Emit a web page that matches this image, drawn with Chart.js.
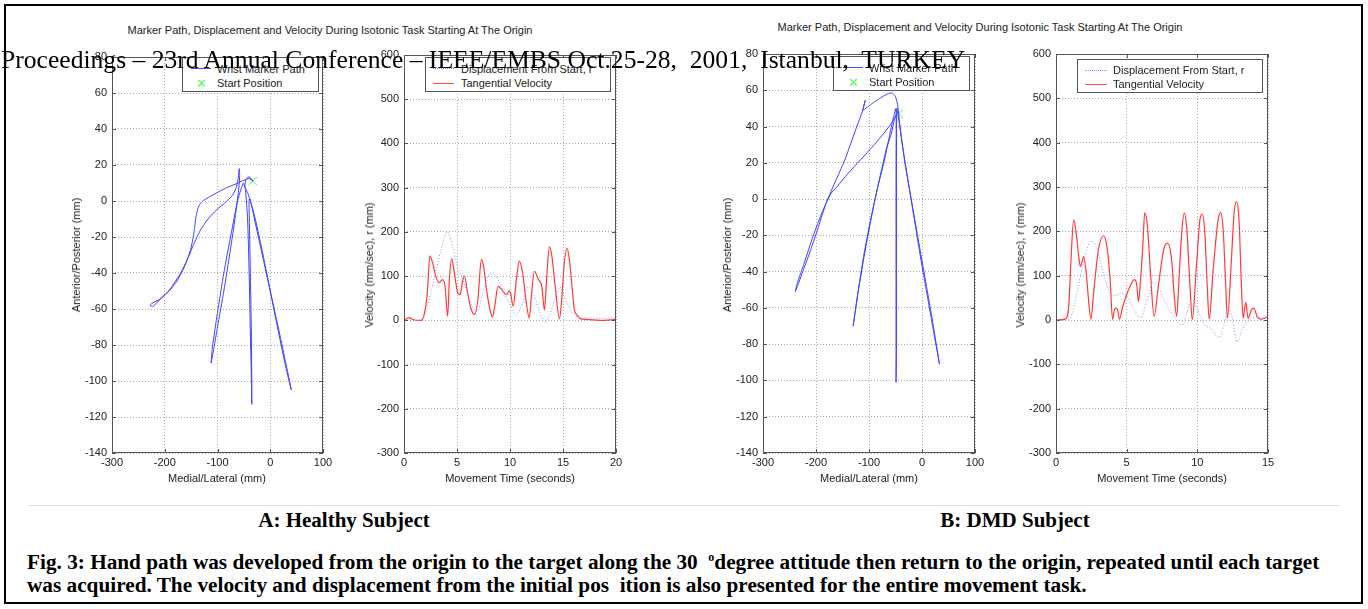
<!DOCTYPE html>
<html>
<head>
<meta charset="utf-8">
<title>Marker Path, Displacement and Velocity</title>
<script src="https://cdn.jsdelivr.net/npm/chart.js@4.4.0/dist/chart.umd.min.js"></script>
<style>
  body { margin: 0; background: #fff; width: 1368px; height: 609px; position: relative; overflow: hidden;
         font-family: "Liberation Sans", Arial, sans-serif; }
  .abs { position: absolute; white-space: nowrap; }
  .frame { left: 4px; top: 4px; width: 1359px; height: 600px; border: 2px solid #000; box-sizing: border-box; }
  .rule { height: 1px; background: #e0e0e0; }
  .plot { position: absolute; }
  .ttl { font-size: 11px; color: #222; transform: translate(-50%, -50%); }
  .ylab { font-size: 11px; color: #222; transform: translate(-50%, -50%) rotate(-90deg); }
  .legend { position: absolute; border: 1px solid #555; background: #fff; box-sizing: border-box; z-index: 2; }
  .legend .row { position: absolute; font-size: 11px; color: #222; transform: translateY(-50%); white-space: nowrap; }
  .legend .ln { position: absolute; height: 0; }
  .legend .mk { position: absolute; font-size: 13px; color: #5f5; transform: translate(-50%, -50%); }
  .banner { font-family: "Liberation Serif", "Times New Roman", serif; font-size: 25.6px; color: #000; z-index: 5;
            white-space: pre; }
  .sub { font-family: "Liberation Serif", "Times New Roman", serif; font-weight: bold; font-size: 21px; color: #000;
         transform: translate(-50%, -50%); }
  .cap { font-family: "Liberation Serif", "Times New Roman", serif; font-weight: bold; font-size: 21.25px; color: #000;
         white-space: pre; }
</style>
</head>
<body>

<div class="abs frame"></div>
<div class="abs rule" style="left:28px; top:505px; width:1312px;"></div>

<!-- panel titles -->
<div class="abs ttl" style="left:330px; top:30px;">Marker Path, Displacement and Velocity During Isotonic Task Starting At The Origin</div>
<div class="abs ttl" style="left:980px; top:27px;">Marker Path, Displacement and Velocity During Isotonic Task Starting At The Origin</div>

<!-- plots -->
<div class="plot" id="boxPathA"><canvas id="pathA"></canvas></div>
<div class="plot" id="boxVelA"><canvas id="velA"></canvas></div>
<div class="plot" id="boxPathB"><canvas id="pathB"></canvas></div>
<div class="plot" id="boxVelB"><canvas id="velB"></canvas></div>

<!-- axis titles -->
<div class="abs ttl" style="left:217px; top:478px;">Medial/Lateral (mm)</div>
<div class="abs ttl" style="left:510px; top:478px;">Movement Time (seconds)</div>
<div class="abs ttl" style="left:869px; top:478px;">Medial/Lateral (mm)</div>
<div class="abs ttl" style="left:1162px; top:478px;">Movement Time (seconds)</div>
<div class="abs ylab" style="left:76px; top:255px;">Anterior/Posterior (mm)</div>
<div class="abs ylab" style="left:369px; top:265px;">Velocity (mm/sec), r (mm)</div>
<div class="abs ylab" style="left:727px; top:255px;">Anterior/Posterior (mm)</div>
<div class="abs ylab" style="left:1020px; top:265px;">Velocity (mm/sec), r (mm)</div>

<!-- legends -->
<div class="legend" style="left:182px; top:57px; width:137px; height:35px;">
  <div class="ln" style="left:8px; top:10px; width:20px; border-top:1px solid #4a4aff;"></div>
  <div class="row" style="left:34px; top:11px;">Wrist Marker Path</div>
  <div class="mk" style="left:18px; top:25px;">✕</div>
  <div class="row" style="left:34px; top:25px;">Start Position</div>
</div>
<div class="legend" style="left:425px; top:57px; width:186px; height:35px;">
  <div class="ln" style="left:7px; top:10px; width:21px; border-top:1px dotted #8a8aff;"></div>
  <div class="row" style="left:35px; top:11px;">Displacement From Start, r</div>
  <div class="ln" style="left:7px; top:25px; width:21px; border-top:1px solid #ff4a4a;"></div>
  <div class="row" style="left:35px; top:25px;">Tangential Velocity</div>
</div>
<div class="legend" style="left:833px; top:56px; width:137px; height:35px;">
  <div class="ln" style="left:9px; top:10px; width:20px; border-top:1px solid #4a4aff;"></div>
  <div class="row" style="left:35px; top:11px;">Wrist Marker Path</div>
  <div class="mk" style="left:19px; top:25px;">✕</div>
  <div class="row" style="left:35px; top:25px;">Start Position</div>
</div>
<div class="legend" style="left:1077px; top:59px; width:186px; height:34px;">
  <div class="ln" style="left:7px; top:10px; width:22px; border-top:1px dotted #8a8aff;"></div>
  <div class="row" style="left:35px; top:10px;">Displacement From Start, r</div>
  <div class="ln" style="left:7px; top:24px; width:22px; border-top:1px solid #ff4a4a;"></div>
  <div class="row" style="left:35px; top:24px;">Tangential Velocity</div>
</div>

<!-- banner over the figure -->
<div class="abs banner" style="left:1px; top:45px;">Proceedings – 23rd Annual Conference – IEEE/EMBS Oct.25-28,  2001,  Istanbul,  TURKEY</div>

<!-- sub captions -->
<div class="abs sub" style="left:344px; top:520px;">A: Healthy Subject</div>
<div class="abs sub" style="left:1015px; top:520px;">B: DMD Subject</div>
<div class="abs cap" style="left:27px; top:550px;">Fig. 3: Hand path was developed from the origin to the target along the 30  <sup style="font-size:12px;">o</sup>degree attitude then return to the origin, repeated until each target</div>
<div class="abs cap" style="left:27px; top:573px;">was acquired. The velocity and displacement from the initial pos  ition is also presented for the entire movement task.</div>

<script>
// ---- tick labels ----
const pathXTicks = [-300, -200, -100, 0, 100];
const pathYTicks = [-140, -120, -100, -80, -60, -40, -20, 0, 20, 40, 60, 80];
const velYTicks = [-300, -200, -100, 0, 100, 200, 300, 400, 500, 600];
const timeTicksA = [0, 5, 10, 15, 20];
const timeTicksB = [0, 5, 10, 15];

// ---- A: healthy subject, wrist path (mm) ----
const startA = [-33, 11];
const pathAX = [-33, -40, -50, -65, -85, -105, -120, -128, -134, -138, -141, -143, -146, -151, -158, -170, -190, -210, -222, -228,
  -225, -212, -195, -178, -165, -155, -145, -132, -118, -102, -86, -72, -65, -61, -59,
  -58, -60, -66, -76, -88, -100, -112,
  -110, -100, -88, -74, -62, -55, -51,
  -47, -43, -40, -38, -36, -35,
  -35, -36, -38, -40, -40, -38,
  -30, -15, 0, 15, 28, 40,
  30, 15, 0, -15, -30, -42, -48, -46, -40, -33];
const pathAY = [11, 12.5, 11.5, 9.5, 7, 4, 1.5, 0, -2, -5, -9, -14, -20, -27, -33, -40, -49, -55, -58.5, -58,
  -57, -55, -51, -45, -38, -31, -24, -16, -10, -5, -1, 3, 7, 12, 18,
  14, 6, -8, -28, -50, -70, -90,
  -82, -62, -40, -18, 0, 7, 10,
  6, -10, -40, -70, -95, -113,
  -100, -70, -35, -5, 1, 1,
  -10, -30, -50, -70, -88, -105,
  -93, -72, -50, -28, -8, 4, 8, 12, 13.5, 11];

// ---- B: DMD subject, wrist path (mm) ----
const startB = [-44, 47];
const pathBX = [-44, -46, -50, -56, -65, -80, -95, -104, -111, -107, -113,
  -128, -145, -160, -172, -182, -195, -210, -225, -239,
  -236, -222, -205, -188, -172, -160, -140, -115, -90, -70, -55, -48,
  -52, -58, -67, -78, -90, -102, -113, -122, -130,
  -126, -118, -108, -96, -84, -72, -62, -54, -49,
  -49, -49, -49, -49, -49,
  -48, -48, -48, -48, -47,
  -42, -34, -24, -14, -4, 8, 20, 33,
  28, 18, 6, -6, -18, -30, -38, -43, -44];
const pathBY = [47, 52, 56.5, 58.5, 58, 55.5, 52.5, 50.5, 49, 54.5, 48,
  36, 22, 12, 4, -3, -15, -28, -40, -51,
  -47, -35, -20, -7, 3, 7, 14, 22, 30, 37, 43, 47,
  44, 36, 28, 14, -2, -20, -38, -54, -70,
  -62, -46, -28, -10, 6, 20, 34, 45, 50,
  20, -20, -60, -80, -101,
  -80, -40, 0, 40, 50,
  40, 24, 6, -12, -30, -50, -70, -91,
  -82, -64, -44, -24, -4, 16, 32, 44, 47];

// ---- A: tangential velocity (mm/sec) and displacement r (mm) ----
const timeAVel = [0, 0.5, 0.8, 1.6, 1.9, 2.2, 2.44, 2.7, 3.0, 3.3, 3.65, 3.87, 4.12, 4.28, 4.5, 4.75, 5.07, 5.3, 5.55, 5.7,
  6.0, 6.3, 6.66, 6.97, 7.3, 7.5, 7.83, 8.15, 8.34, 8.56, 8.87, 9.2, 9.67, 9.92, 10.05, 10.3, 10.6, 10.87, 11.19, 11.5,
  11.82, 12.04, 12.3, 12.68, 13.0, 13.25, 13.47, 13.72, 13.95, 14.26, 14.67, 14.9, 15.1, 15.37, 15.6, 15.85, 16.07, 16.3,
  16.6, 17.3, 18.5, 20];
const velA = [0, 6, 2, 0, 13, 62, 145, 130, 100, 85, 92, 77, 9, 92, 139, 108, 62, 58, 92, 100,
  62, 28, 13, 47, 138, 123, 62, 20, 8, 32, 77, 70, 58, 66, 62, 32, 92, 134, 108, 47,
  5, 62, 111, 92, 77, 23, 100, 166, 145, 77, 4, 55, 123, 163, 138, 77, 24, 13,
  4, 2, 0, 2];
const timeADisp = [0, 1.5, 2.0, 2.5, 3.0, 3.5, 4.1, 4.6, 5.0, 5.5, 6.0, 6.5, 6.9, 7.4, 7.9, 8.3, 8.8, 9.4, 10.0, 10.6,
  11.2, 11.7, 12.2, 12.8, 13.3, 13.8, 14.3, 14.7, 15.2, 15.8, 16.3, 17, 18, 20];
const dispA = [0, 0, 15, 60, 110, 160, 200, 165, 125, 95, 60, 28, 20, 60, 100, 108, 95, 65, 35, 12,
  40, 75, 60, 20, -5, 15, 55, 75, 50, 20, 8, 5, 5, 5];

// ---- B: tangential velocity (mm/sec) and displacement r (mm) ----
const timeBVel = [0, 0.66, 0.9, 1.06, 1.25, 1.43, 1.67, 1.74, 1.95, 2.14, 2.3, 2.47, 2.66, 3.0, 3.36, 3.6, 3.83, 4.0,
  4.18, 4.35, 4.49, 4.73, 5.0, 5.24, 5.53, 5.71, 5.83, 5.95, 6.14, 6.28, 6.47, 6.7, 6.94, 7.24, 7.64, 7.9, 8.18, 8.35,
  8.54, 8.7, 8.89, 9.08, 9.26, 9.48, 9.64, 9.95, 10.18, 10.35, 10.53, 10.7, 10.84, 11.12, 11.47, 11.64, 11.83, 11.99,
  12.13, 12.41, 12.6, 12.77, 12.95, 13.12, 13.24, 13.43, 13.59, 13.83, 13.99, 14.23, 14.46, 14.77, 15];
const velB = [0, 2, 31, 136, 226, 196, 128, 121, 143, 106, 46, 2, 61, 158, 190, 166, 91, 2,
  27, 23, 2, 31, 57, 76, 91, 80, 42, 76, 166, 242, 211, 98, 8, 76, 162, 173, 136, 61,
  8, 91, 196, 241, 203, 76, 1, 128, 226, 239, 196, 76, 2, 113, 226, 242, 203, 91,
  4, 136, 241, 267, 226, 76, 4, 40, 4, 23, 27, 8, 2, 4, 8];
const timeBDisp = [0, 0.8, 1.2, 1.6, 2.0, 2.5, 2.9, 3.3, 3.8, 4.2, 4.6, 5.0, 5.5, 6.0, 6.4, 6.9, 7.3, 7.8, 8.4, 8.9,
  9.3, 9.6, 10.0, 10.5, 11.0, 11.5, 11.9, 12.2, 12.5, 12.8, 13.2, 13.6, 14.2, 15];
const dispB = [0, 0, 20, 80, 140, 178, 160, 110, 62, 55, 60, 55, 25, 5, 40, 85, 70, 35, 5, -12,
  20, 48, 25, -10, -20, -40, -10, 30, 0, -50, -20, 0, 5, 5];

// ---- layout of each plot box (plot area in page pixels) ----
const PAD_L = 50, PAD_T = 10, PAD_R = 16, PAD_B = 24;
const TEXT = '#222';
const BLUE = '#4040ff';
const RED = '#ff3a3a';

function pairs(xs, ys) {
    return xs.map((x, i) => ({ x: x, y: ys[i] }));
}

function placeBox(id, left, top, right, bottom) {
    const el = document.getElementById(id);
    el.style.left = (left - PAD_L) + 'px';
    el.style.top = (top - PAD_T) + 'px';
    el.style.width = (right - left + PAD_L + PAD_R) + 'px';
    el.style.height = (bottom - top + PAD_T + PAD_B) + 'px';
}

// MATLAB-like axes box with inward ticks on all four sides
const matlabBox = {
    id: 'matlabBox',
    afterDatasetsDraw(chart) {
        const { ctx, chartArea: a, scales } = chart;
        ctx.save();
        ctx.strokeStyle = '#555';
        ctx.lineWidth = 1;
        ctx.strokeRect(a.left + 0.5, a.top + 0.5, a.right - a.left - 1, a.bottom - a.top - 1);
        ctx.beginPath();
        scales.x.ticks.forEach(t => {
            const px = Math.round(scales.x.getPixelForValue(t.value)) + 0.5;
            ctx.moveTo(px, a.bottom); ctx.lineTo(px, a.bottom - 4);
            ctx.moveTo(px, a.top); ctx.lineTo(px, a.top + 4);
        });
        scales.y.ticks.forEach(t => {
            const py = Math.round(scales.y.getPixelForValue(t.value)) + 0.5;
            ctx.moveTo(a.left, py); ctx.lineTo(a.left + 4, py);
            ctx.moveTo(a.right, py); ctx.lineTo(a.right - 4, py);
        });
        ctx.stroke();
        ctx.restore();
    }
};

function axis(tickValues, isX) {
    return {
        type: 'linear',
        min: tickValues[0],
        max: tickValues[tickValues.length - 1],
        afterBuildTicks: scale => { scale.ticks = tickValues.map(v => ({ value: v })); },
        ticks: {
            color: TEXT,
            font: { family: '"Liberation Sans", Arial, sans-serif', size: 11 },
            padding: isX ? 3 : 5,
            autoSkip: false,
            maxRotation: 0
        },
        grid: { color: '#a8a8a8', lineWidth: 1, drawTicks: false },
        border: { display: false, dash: [1, 2] },
        afterFit: scale => {
            if (isX) {
                scale.height = PAD_B;
            } else {
                scale.width = PAD_L;
            }
            scale.paddingLeft = 0; scale.paddingRight = 0;
            scale.paddingTop = 0; scale.paddingBottom = 0;
        }
    };
}

function baseOptions(xTicks, yTicks) {
    return {
        responsive: true,
        maintainAspectRatio: false,
        animation: false,
        events: [],
        layout: { padding: { left: 0, top: PAD_T, right: PAD_R, bottom: 0 } },
        plugins: { legend: { display: false }, tooltip: { enabled: false } },
        scales: { x: axis(xTicks, true), y: axis(yTicks, false) }
    };
}

function pathChart(canvasId, xs, ys, start) {
    return new Chart(document.getElementById(canvasId), {
        type: 'scatter',
        data: {
            datasets: [{
                label: 'Wrist Marker Path',
                data: pairs(xs, ys),
                showLine: true,
                borderColor: BLUE,
                borderWidth: 1,
                pointRadius: 0,
                tension: 0.2
            }, {
                label: 'Start Position',
                data: [{ x: start[0], y: start[1] }],
                pointStyle: 'crossRot',
                pointRadius: 6,
                borderColor: '#55ee55',
                borderWidth: 1
            }]
        },
        options: baseOptions(pathXTicks, pathYTicks),
        plugins: [matlabBox]
    });
}

function velChart(canvasId, timeTicks, tDisp, disp, tVel, vel) {
    return new Chart(document.getElementById(canvasId), {
        type: 'line',
        data: {
            datasets: [{
                label: 'Displacement From Start, r',
                data: pairs(tDisp, disp),
                borderColor: '#8c8cff',
                borderWidth: 1,
                borderDash: [1, 2],
                pointRadius: 0,
                cubicInterpolationMode: 'monotone'
            }, {
                label: 'Tangential Velocity',
                data: pairs(tVel, vel),
                borderColor: RED,
                borderWidth: 1.2,
                pointRadius: 0,
                cubicInterpolationMode: 'monotone'
            }]
        },
        options: baseOptions(timeTicks, velYTicks),
        plugins: [matlabBox]
    });
}

placeBox('boxPathA', 112, 57, 323, 453);
placeBox('boxVelA', 404, 55, 616, 453);
placeBox('boxPathB', 763, 54, 975, 453);
placeBox('boxVelB', 1056, 54, 1268, 453);

pathChart('pathA', pathAX, pathAY, startA);
velChart('velA', timeTicksA, timeADisp, dispA, timeAVel, velA);
pathChart('pathB', pathBX, pathBY, startB);
velChart('velB', timeTicksB, timeBDisp, dispB, timeBVel, velB);
</script>
</body>
</html>
